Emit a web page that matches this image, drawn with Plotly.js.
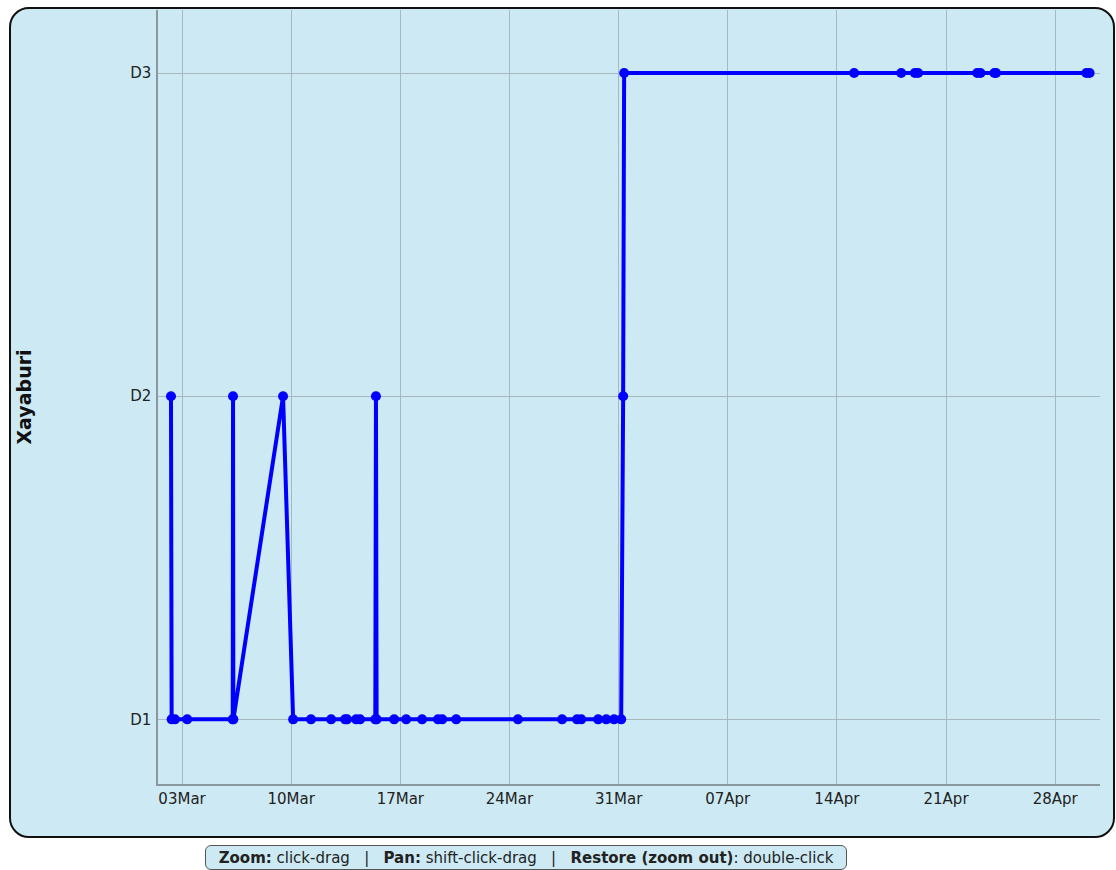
<!DOCTYPE html>
<html>
<head>
<meta charset="utf-8">
<script src="https://cdn.plot.ly/plotly-3.0.1.min.js"></script>
<style>
  html, body { margin: 0; padding: 0; background: #ffffff; }
  body { width: 1116px; height: 870px; position: relative; overflow: hidden; }
  #frame {
    position: absolute; left: 9px; top: 7px; width: 1102px; height: 827px;
    border: 2px solid #111; border-radius: 20px; background: #cdeaf4;
  }
  #chart { position: absolute; left: 0; top: 0; width: 1116px; height: 870px; }
  #help {
    position: absolute; left: 205px; top: 845px; width: 642px; height: 25px;
    border: 1px solid #555; border-radius: 6px; background: #cdeaf4;
    font-family: "DejaVu Sans", Verdana, sans-serif; font-size: 15px; color: #222;
    line-height: 24px; text-align: center; box-sizing: border-box; white-space: nowrap;
  }
  #help b { font-weight: bold; }
</style>
</head>
<body>
<div id="frame"></div>
<div id="chart"></div>
<div id="help"><b>Zoom:</b> click-drag &nbsp;&nbsp;|&nbsp;&nbsp; <b>Pan:</b> shift-click-drag &nbsp;&nbsp;|&nbsp;&nbsp; <b>Restore (zoom out)</b>: double-click</div>
<script>
const dates = [
  "2024-03-02 07:00", "2024-03-02 08:00", "2024-03-02 13:00", "2024-03-03 08:00",
  "2024-03-06 06:00", "2024-03-06 06:30", "2024-03-06 07:00",
  "2024-03-09 11:30", "2024-03-10 03:00", "2024-03-11 06:30", "2024-03-12 13:30",
  "2024-03-13 11:00", "2024-03-13 14:00", "2024-03-14 04:00", "2024-03-14 10:00",
  "2024-03-15 09:30", "2024-03-15 10:30", "2024-03-15 11:30",
  "2024-03-16 14:30", "2024-03-17 09:00", "2024-03-18 09:30", "2024-03-19 10:00",
  "2024-03-19 16:30", "2024-03-20 14:00", "2024-03-24 13:00", "2024-03-27 09:00",
  "2024-03-28 08:00", "2024-03-28 14:30", "2024-03-29 16:30", "2024-03-30 05:00",
  "2024-03-30 17:00", "2024-03-31 04:00", "2024-03-31 07:00", "2024-03-31 08:30",
  "2024-04-15 02:30", "2024-04-18 03:00", "2024-04-19 00:00", "2024-04-19 05:00",
  "2024-04-23 00:00", "2024-04-23 05:00", "2024-04-24 02:30", "2024-04-24 05:00",
  "2024-04-30 00:00", "2024-04-30 05:00"
];
const levels = [
  "D2", "D1", "D1", "D1",
  "D1", "D2", "D1",
  "D2", "D1", "D1", "D1",
  "D1", "D1", "D1", "D1",
  "D1", "D2", "D1",
  "D1", "D1", "D1", "D1",
  "D1", "D1", "D1", "D1",
  "D1", "D1", "D1", "D1",
  "D1", "D1", "D2", "D3",
  "D3", "D3", "D3", "D3",
  "D3", "D3", "D3", "D3",
  "D3", "D3"
];
const categories = ["D1", "D2", "D3"];
const yTitle = "Xayaburi";

const font = "DejaVu Sans, Verdana, sans-serif";
const trace = {
  x: dates, y: levels, type: "scatter", mode: "lines+markers",
  line: { color: "#0000ff", width: 4 },
  marker: { color: "#0000ff", size: 10 },
  hoverinfo: "x+y"
};
const layout = {
  width: 1116, height: 870,
  margin: { l: 158, r: 16, t: 10, b: 86, pad: 0 },
  paper_bgcolor: "rgba(0,0,0,0)",
  plot_bgcolor: "rgba(0,0,0,0)",
  showlegend: false,
  font: { family: font, size: 15, color: "#222" },
  xaxis: {
    type: "date",
    range: ["2024-03-01 11:00", "2024-04-30 21:00"],
    tick0: "2024-03-03", dtick: 7 * 86400000,
    tickformat: "%d%b",
    showgrid: true, gridcolor: "#a7b8bf", gridwidth: 1,
    showline: true, linecolor: "#8a979c", linewidth: 1.5,
    ticks: "", zeroline: false, automargin: false,
    tickfont: { family: font, size: 15, color: "#222" }
  },
  yaxis: {
    type: "category",
    categoryorder: "array", categoryarray: categories,
    range: [-0.2, 2.195],
    showgrid: true, gridcolor: "#a7b8bf", gridwidth: 1,
    showline: true, linecolor: "#8a979c", linewidth: 1.5,
    ticks: "", zeroline: false, automargin: false,
    ticklabelstandoff: 2,
    tickfont: { family: font, size: 15, color: "#222" },
    title: { text: "<b>" + yTitle + "</b>", font: { family: font, size: 19, color: "#111" }, standoff: 94 }
  }
};
Plotly.newPlot("chart", [trace], layout, { displayModeBar: false });
</script>
</body>
</html>
